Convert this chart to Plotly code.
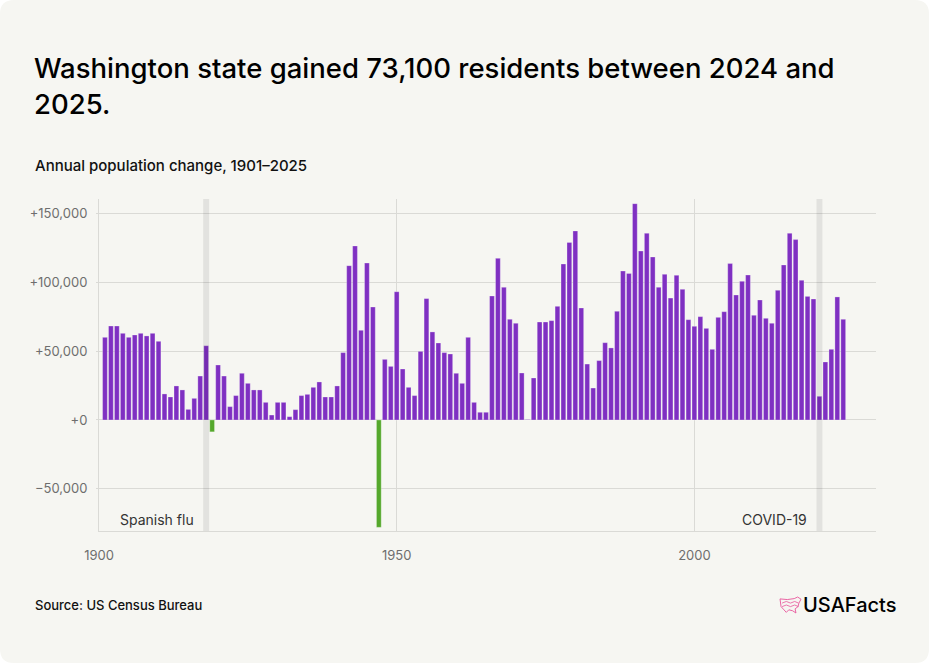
import plotly.graph_objects as go

# ---------------- data ----------------
years = list(range(1901, 2026))
change = [
    60000, 68200, 68200, 62900, 60000, 61700, 62900, 61000, 62900, 57100,   # 1901-1910
    18900, 16700, 24700, 21800, 7700, 15700, 31900, 53900, -8600, 39900,     # 1911-1920
    31900, 9700, 17700, 33900, 26600, 21800, 21800, 12800, 3600, 12800,      # 1921-1930
    12800, 2400, 7500, 17700, 18600, 23700, 27600, 16700, 16700, 24700,      # 1931-1940
    48900, 112000, 126300, 65100, 113900, 82000, -77900, 44000, 38900, 93100,  # 1941-1950
    37000, 23700, 17700, 49800, 88100, 63900, 55900, 48900, 47900, 33900,    # 1951-1960
    26600, 60000, 12800, 5600, 5600, 90000, 117300, 96300, 73100, 70200,     # 1961-1970
    34100, 300, 30500, 71100, 71100, 72100, 82500, 113200, 128900, 137200,   # 1971-1980
    81300, 40600, 23200, 43100, 56100, 52300, 78900, 108100, 106400, 157000, # 1981-1990
    122600, 135500, 118300, 96300, 105700, 88500, 105000, 94800, 72800, 68000,  # 1991-2000
    75000, 66500, 51300, 74500, 78600, 113500, 90700, 100600, 105200, 76000, # 2001-2010
    87100, 73800, 70200, 94100, 112500, 135500, 130900, 101400, 89700, 87800,  # 2011-2020
    17200, 42100, 51300, 89300, 73100,                                       # 2021-2025
]
assert len(years) == len(change)

event_labels = ["Spanish flu", "COVID-19"]
event_years = [1918, 2021]

y_tickvals = [-50000, 0, 50000, 100000, 150000]
y_ticktext = ["\u221250,000", "+0", "+50,000", "+100,000", "+150,000"]
x_tickvals = [1900, 1950, 2000]
x_ticktext = ["1900", "1950", "2000"]

title_text = "Washington state gained 73,100 residents between 2024 and<br>2025."
subtitle_text = "Annual population change, 1901\u20132025"
source_text = "Source: US Census Bureau"

# ---------------- style ----------------
W, H = 929, 663
ML, MR, MT, MB = 99, 53, 199, 132
PW, PH = W - ML - MR, H - MT - MB
BG = "#F6F6F2"
PURPLE = "#7F30C2"
GREEN = "#55A82C"
GRID = "#DADAD6"
PINK = "#E8559B"
FONT = "Inter, 'Open Sans', 'Liberation Sans', sans-serif"


def px_to_paper(px, py):
    return (px - ML) / PW, (H - MB - py) / PH


colors = [GREEN if v < 0 else PURPLE for v in change]

fig = go.Figure()
fig.add_trace(go.Bar(
    x=years, y=change,
    marker=dict(color=colors, line=dict(color="rgba(255,255,255,0.35)", width=0.8)),
    hovertemplate="%{x}: %{y:+,}<extra></extra>",
))

shapes = []
# rounded card background
r = 14
cx0, cy0 = px_to_paper(0, 0)
cx1, cy1 = px_to_paper(W, H)
rx = r / PW
ry = r / PH
path = (
    f"M {cx0 + rx},{cy0} L {cx1 - rx},{cy0} Q {cx1},{cy0} {cx1},{cy0 - ry} "
    f"L {cx1},{cy1 + ry} Q {cx1},{cy1} {cx1 - rx},{cy1} "
    f"L {cx0 + rx},{cy1} Q {cx0},{cy1} {cx0},{cy1 + ry} "
    f"L {cx0},{cy0 - ry} Q {cx0},{cy0} {cx0 + rx},{cy0} Z"
)
shapes.append(dict(type="path", path=path, xref="paper", yref="paper",
                   fillcolor=BG, line=dict(width=0), layer="below"))

# event bands
for yr in event_years:
    shapes.append(dict(type="rect", xref="x", yref="paper", x0=yr - 0.5, x1=yr + 0.5,
                       y0=0, y1=1, fillcolor="rgba(0,0,0,0.08)", line=dict(width=0),
                       layer="above"))

# logo icon (rough US outline, drawn as thin pink strokes)
outline = [(0, 0.12), (0.35, 0.16), (0.68, 0.1), (0.84, 0.0), (1.0, 0.14), (0.9, 0.38),
           (0.86, 0.6), (0.72, 0.74), (0.76, 1.0), (0.6, 0.86), (0.42, 0.8), (0.3, 0.96),
           (0.16, 0.76), (0.05, 0.6), (0, 0.12)]
bx0, by0, bw, bh = 780, 597, 21, 16
pp = [px_to_paper(bx0 + u * bw, by0 + v * bh) for u, v in outline]
ipath = "M " + " L ".join(f"{a},{b}" for a, b in pp) + " Z"
shapes.append(dict(type="path", path=ipath, xref="paper", yref="paper",
                   line=dict(color=PINK, width=0.9), fillcolor="rgba(0,0,0,0)"))
for v in (0.33, 0.55):
    seg = [px_to_paper(bx0 + u * bw, by0 + (v + 0.05 * ((-1) ** i)) * bh)
           for i, u in enumerate([0.1, 0.3, 0.5, 0.7, 0.88])]
    spath = "M " + " L ".join(f"{a},{b}" for a, b in seg)
    shapes.append(dict(type="path", path=spath, xref="paper", yref="paper",
                       line=dict(color=PINK, width=0.8)))

annotations = []
for lab, yr in zip(event_labels, event_years):
    _, ay = px_to_paper(0, 519)
    annotations.append(dict(text=lab, x=yr - 0.5, xref="x", y=ay, yref="paper",
                            xanchor="right", yanchor="middle", xshift=-7, showarrow=False,
                            font=dict(family=FONT, size=14, color="#333333")))

tx, ty = px_to_paper(32, 49)
annotations.append(dict(text=title_text, x=tx, y=ty, xref="paper", yref="paper",
                        xanchor="left", yanchor="top", align="left", showarrow=False,
                        font=dict(family=FONT, size=27.5, color="#000000", weight=500)))
sx, sy = px_to_paper(33, 165)
annotations.append(dict(text=subtitle_text, x=sx, y=sy, xref="paper", yref="paper",
                        xanchor="left", yanchor="middle", showarrow=False,
                        font=dict(family=FONT, size=15, color="#111111", weight=500)))
qx, qy = px_to_paper(33, 605)
annotations.append(dict(text=source_text, x=qx, y=qy, xref="paper", yref="paper",
                        xanchor="left", yanchor="middle", showarrow=False,
                        font=dict(family=FONT, size=13, color="#111111", weight=500)))
lx, ly = px_to_paper(898, 605)
annotations.append(dict(text="USAFacts", x=lx, y=ly, xref="paper", yref="paper",
                        xanchor="right", yanchor="middle", showarrow=False,
                        font=dict(family=FONT, size=20, color="#000000", weight=500)))

fig.update_layout(
    width=W, height=H,
    margin=dict(l=ML, r=MR, t=MT, b=MB, pad=0),
    paper_bgcolor="#FFFFFF",
    plot_bgcolor="rgba(0,0,0,0)",
    showlegend=False,
    bargap=0.2,
    shapes=shapes,
    annotations=annotations,
    font=dict(family=FONT),
    xaxis=dict(
        range=[1900, 2030.5],
        tickvals=x_tickvals, ticktext=x_ticktext,
        showgrid=True, gridcolor=GRID, gridwidth=1,
        showline=True, linecolor=GRID, linewidth=1,
        zeroline=False, ticks="", ticklabelstandoff=12,
        tickfont=dict(family=FONT, size=13, color="#6E6E6E"),
    ),
    yaxis=dict(
        range=[-80560, 160380],
        tickvals=y_tickvals, ticktext=y_ticktext,
        showgrid=True, gridcolor=GRID, gridwidth=1,
        showline=True, linecolor=GRID, linewidth=1,
        zeroline=True, zerolinecolor=GRID, zerolinewidth=1,
        ticks="outside", ticklen=2, tickcolor=GRID, ticklabelstandoff=6,
        tickfont=dict(family=FONT, size=13, color="#6E6E6E"),
    ),
)

fig.write_html("out.html")
